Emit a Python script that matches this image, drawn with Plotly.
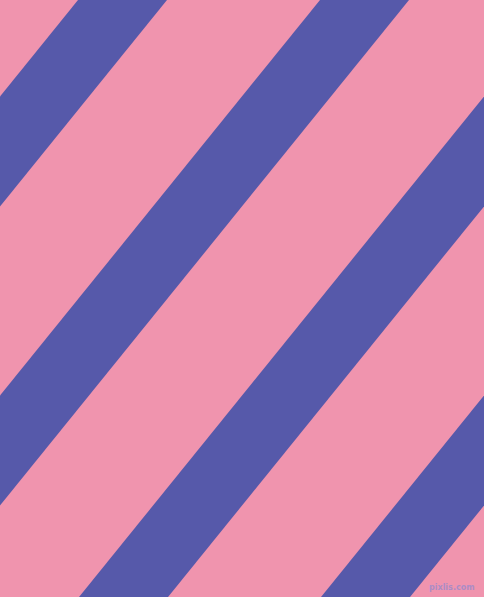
import plotly.graph_objects as go

# Diagonal stripes: where each blue band meets the top edge (px from left)
stripe_top_starts = [-164, 78, 320, 562, 804]
stripe_width = 89          # horizontal width of each band
stripe_run = 0.809         # horizontal shift per pixel going down (about 51 deg)
canvas_w = 484
canvas_h = 597

pink = '#F094AE'
blue = '#5659AA'

fig = go.Figure()

for x0 in stripe_top_starts:
    xs = [x0, x0 + stripe_width,
          x0 + stripe_width - stripe_run * canvas_h, x0 - stripe_run * canvas_h, x0]
    ys = [0, 0, canvas_h, canvas_h, 0]
    fig.add_trace(go.Scatter(
        x=xs, y=ys, mode='lines', fill='toself',
        fillcolor=blue, line=dict(color=blue, width=0),
        hoverinfo='skip', showlegend=False
    ))

# Marca de agua pequeña abajo a la derecha
fig.add_annotation(
    x=477, y=587, xref='x', yref='y', xanchor='right', yanchor='middle',
    text='<b>pixlis.com</b>', showarrow=False,
    font=dict(family='DejaVu Sans', size=8, color='#AC8CC6')
)

fig.update_xaxes(range=[0, canvas_w], visible=False, fixedrange=True)
fig.update_yaxes(range=[canvas_h, 0], visible=False, fixedrange=True)
fig.update_layout(
    width=canvas_w, height=canvas_h,
    margin=dict(l=0, r=0, t=0, b=0),
    paper_bgcolor=pink, plot_bgcolor=pink
)

# quitar el margen por defecto del body para que el dibujo llene la ventana
fig.write_html('out.html', config={'displayModeBar': False},
               post_script="document.body.style.margin='0';document.body.style.overflow='hidden';")
